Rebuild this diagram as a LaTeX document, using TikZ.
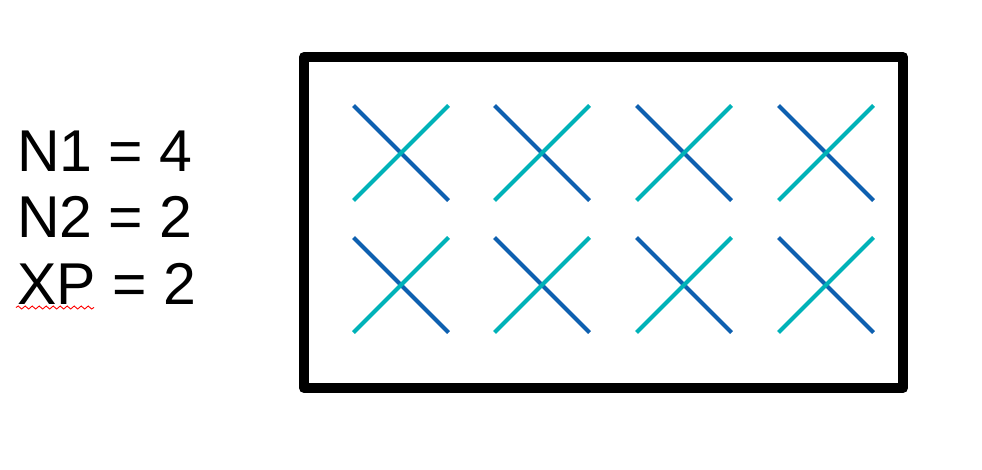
\documentclass[tikz,border=0pt]{standalone}
\usepackage{fontspec}
\setmainfont{Liberation Sans}
\usetikzlibrary{decorations.pathmorphing}
\definecolor{xdark}{HTML}{0E60B0}
\definecolor{xteal}{HTML}{00B2B8}
\tikzset{
  lbl/.style={anchor=base west, inner sep=0pt, font=\fontsize{59}{72}\selectfont},
  frame/.style={line width=10pt, line join=round, draw=black},
  dline/.style={draw=xdark, line width=4pt},
  tline/.style={draw=xteal, line width=4pt},
  squig/.style={draw=red, line width=0.9pt, decorate, decoration={snake, amplitude=1.5pt, segment length=7pt}}
}
\begin{document}
\begin{tikzpicture}[x=1pt,y=-1pt]
\useasboundingbox (0,0) rectangle (982,469);
\node[lbl] (n1) at (17,171) {N1 = 4};
\node[lbl] (n2) at (17,237) {N2 = 2};
\node[lbl] (xp) at (17,304) {XP = 2};
\draw[squig] (16,307.5) -- (94,307.5);
\draw[frame] (304,57) rectangle (903,388);
\foreach \cx in {401,542,684,826}{
  \foreach \cy in {153,285}{
    \draw[dline] (\cx-47.5,\cy-47.5) -- (\cx+47.5,\cy+47.5);
    \draw[tline] (\cx+47.5,\cy-47.5) -- (\cx-47.5,\cy+47.5);
  }
}
\end{tikzpicture}
\end{document}
